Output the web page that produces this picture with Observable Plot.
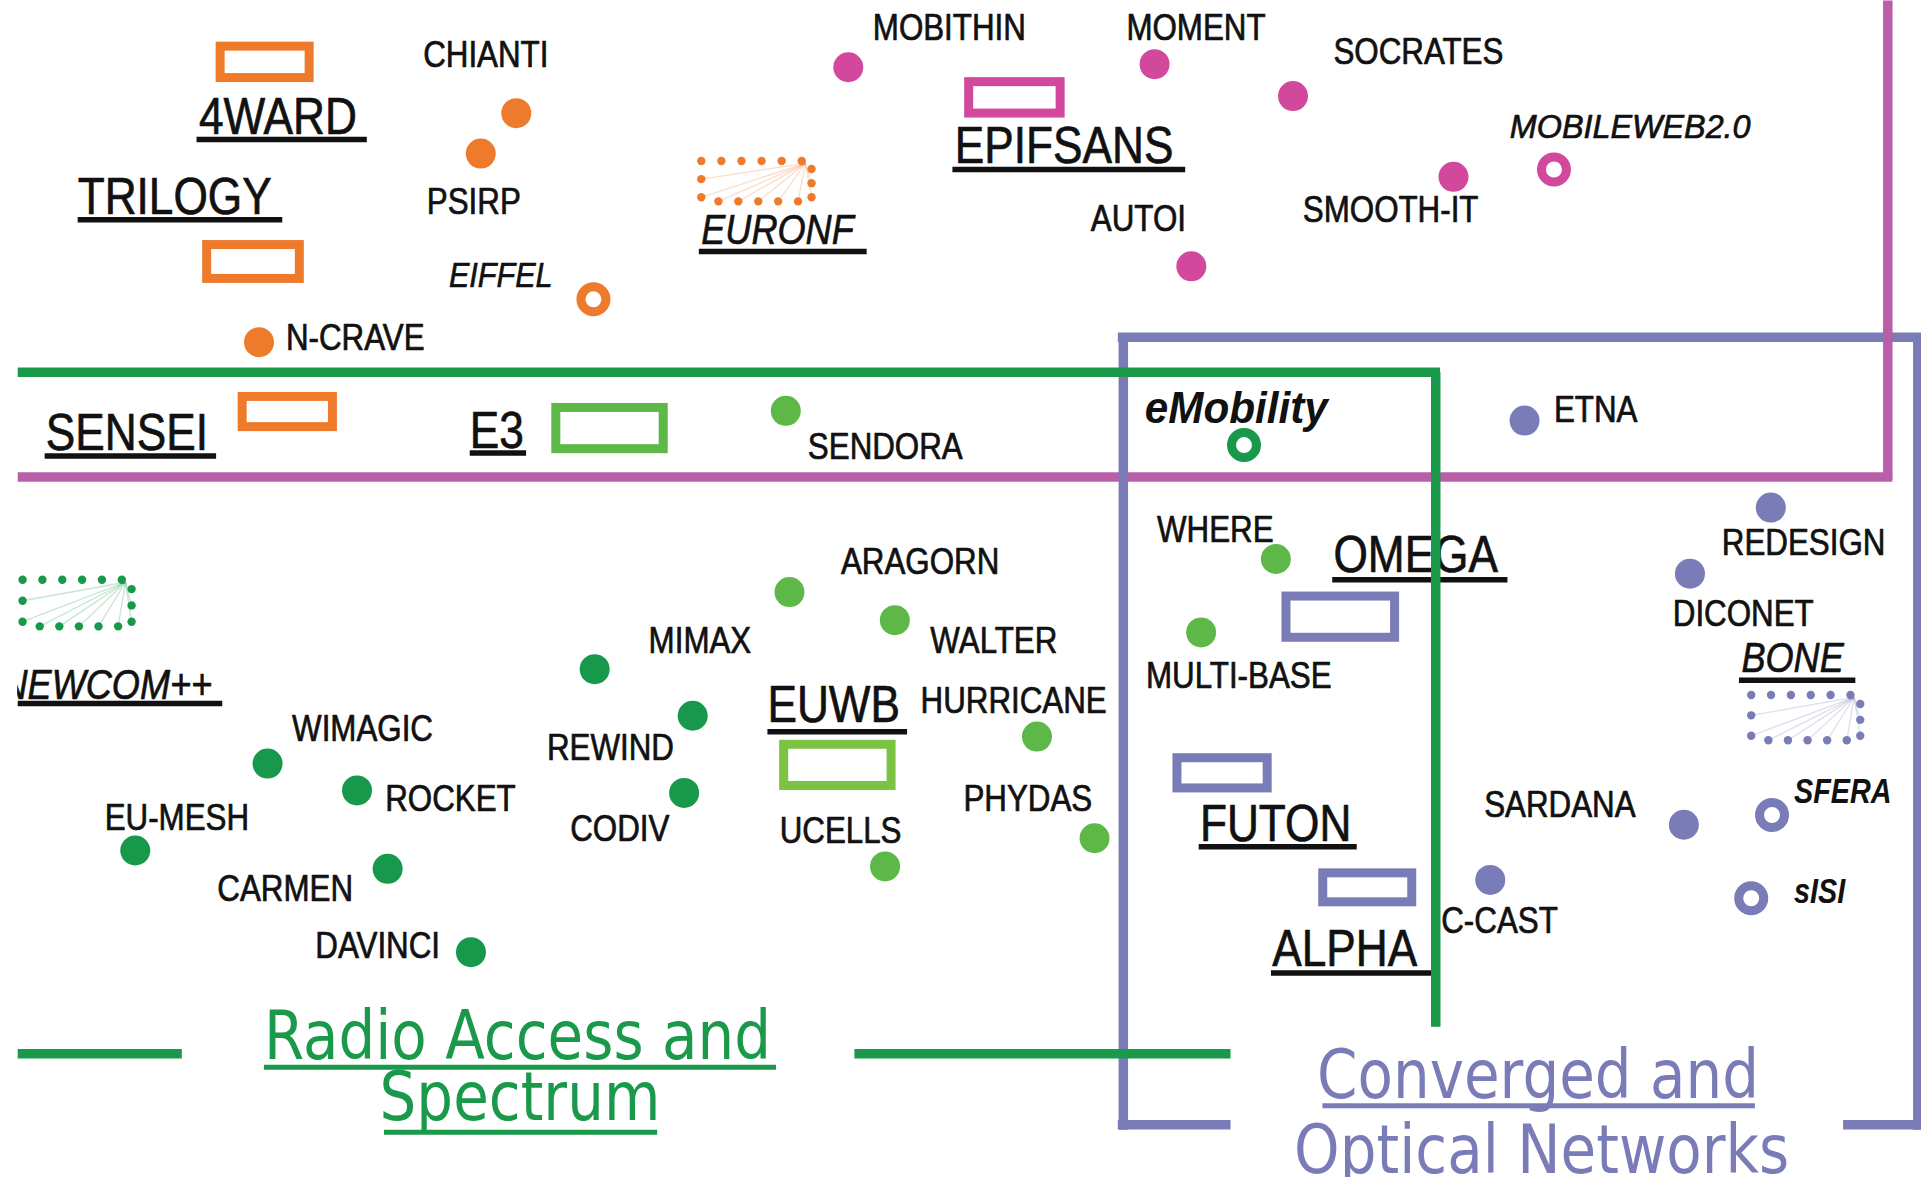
<!DOCTYPE html>
<html>
<head>
<meta charset="utf-8">
<script src="https://cdn.jsdelivr.net/npm/d3@7"></script>
<script src="https://cdn.jsdelivr.net/npm/@observablehq/plot@0.6"></script>
<style>
  html, body { margin: 0; padding: 0; background: #fff; overflow: hidden; }
  #chart svg { display: block; max-width: none; }
</style>
</head>
<body>
<div id="chart"></div>
<script>
// ---------- groups / colours ----------
const groupNames  = ["grpOrange", "grpPink", "grpPinkFrame", "grpLight", "grpLime", "grpDark", "grpGreen", "grpBlue"];
const groupColors = ["#EE7B2C", "#D1489D", "#BA5EA9", "#5DB847", "#7CC243", "#17984A", "#1A994B", "#7A7CB8"];

// ---------- projects shown as filled dots ----------
const dotNames = ["CHIANTI", "PSIRP", "N-CRAVE",
  "MOBITHIN", "MOMENT", "SOCRATES", "SMOOTH-IT", "AUTOI",
  "SENDORA", "ARAGORN", "WALTER", "HURRICANE", "PHYDAS", "UCELLS", "WHERE", "MULTI-BASE",
  "MIMAX", "REWIND", "CODIV", "WIMAGIC", "ROCKET", "EU-MESH", "CARMEN", "DAVINCI",
  "ETNA", "REDESIGN", "DICONET", "SARDANA", "C-CAST"];
const dotX = [421, 392, 211, 692, 942, 1055, 1186, 972,
  641, 644, 730, 846, 893, 722, 1041, 980,
  485, 565, 558, 218, 291, 110, 316, 384,
  1244, 1445, 1379, 1374, 1216];
const dotY = [92, 125, 279, 54.5, 52, 78, 144, 217,
  335, 483, 506, 601, 684, 707, 456, 516,
  546, 584, 647, 623, 645, 694, 709, 777,
  343, 414, 468, 673, 718];
const dotGroup = ["grpOrange", "grpOrange", "grpOrange", "grpPink", "grpPink", "grpPink", "grpPink", "grpPink",
  "grpLight", "grpLight", "grpLight", "grpLight", "grpLight", "grpLight", "grpLight", "grpLight",
  "grpDark", "grpDark", "grpDark", "grpDark", "grpDark", "grpDark", "grpDark", "grpDark",
  "grpBlue", "grpBlue", "grpBlue", "grpBlue", "grpBlue"];

// ---------- projects shown as rings ----------
const ringNames = ["EIFFEL", "MOBILEWEB2.0", "eMobility", "SFERA", "sISI"];
const ringX = [484, 1268, 1015, 1446, 1429];
const ringY = [244, 138, 363, 665, 733];
const ringGroup = ["grpOrange", "grpPink", "grpDark", "grpBlue", "grpBlue"];

// ---------- projects shown as open rectangles ----------
const rectNames = ["4WARD", "TRILOGY", "SENSEI", "EPIFSANS", "E3", "EUWB", "OMEGA", "FUTON", "ALPHA"];
const rectX1 = [176, 165, 194, 787, 450, 636, 1046, 957, 1076];
const rectX2 = [256, 248, 275, 869, 545, 731, 1142, 1038, 1156];
const rectY1 = [34, 196, 320, 63, 329, 604, 483, 615, 709];
const rectY2 = [67, 231, 352, 96, 370, 645, 524, 647, 740];
const rectGroup = ["grpOrange", "grpOrange", "grpOrange", "grpPink", "grpLight", "grpLime", "grpBlue", "grpBlue", "grpBlue"];

// ---------- network-of-excellence icons (dotted frames) ----------
const iconNames = ["EURONF", "NEWCOM++", "BONE"];
const iconX1 = [572, 18, 1429];
const iconX2 = [662, 107, 1518];
const iconY1 = [131, 473, 567];
const iconY2 = [164, 511, 604];
const iconGroup = ["grpOrange", "grpDark", "grpBlue"];

// ---------- labels ----------
const smallText = ["CHIANTI", "PSIRP", "N-CRAVE", "MOBITHIN", "MOMENT", "SOCRATES", "AUTOI", "SMOOTH-IT",
  "SENDORA", "ARAGORN", "MIMAX", "WALTER", "HURRICANE", "REWIND", "WIMAGIC", "ROCKET", "EU-MESH",
  "CODIV", "UCELLS", "PHYDAS", "CARMEN", "DAVINCI", "WHERE", "MULTI-BASE", "ETNA", "REDESIGN",
  "DICONET", "SARDANA", "C-CAST"];
const smallX = [345, 348, 233, 712, 919, 1088, 890, 1063,
  659, 686, 529, 759, 751, 446, 238, 314, 85,
  465, 636, 786, 177, 257, 944, 935, 1268, 1405,
  1365, 1211, 1176];
const smallY = [54, 174, 285, 32.6, 32.6, 52, 188, 181,
  374, 468, 533, 533, 582, 620, 605, 662, 677,
  686, 688, 662, 735, 782, 442, 561, 344, 453,
  511, 667, 761];

const italicText = ["EIFFEL"];
const italicX = [366];
const italicY = [234];

const boldItalicText = ["SFERA", "sISI"];
const boldItalicX = [1464, 1464];
const boldItalicY = [655, 737];

const webText = ["MOBILEWEB2.0"];
const webX = [1232];
const webY = [112];

const bigText = ["4WARD", "TRILOGY", "SENSEI", "E3", "EPIFSANS", "EUWB", "OMEGA", "FUTON", "ALPHA"];
const bigX = [162, 63, 37, 383, 779, 626, 1088, 979, 1038];
const bigY = [109, 174, 367, 365, 133, 589, 467, 686, 788];

const noeText = ["EURONF", "NEWCOM++", "BONE"];
const noeX = [572, 0.8, 1421];
const noeY = [199, 570, 548];

const emobText = ["eMobility"];
const emobX = [934];
const emobY = [345];

// underlines of the underlined labels
const ulX1 = [160, 63, 36, 383, 777, 570, 14, 626, 1087, 978, 1037, 1419];
const ulX2 = [299, 230, 176, 429, 967, 707, 181, 740, 1230, 1107, 1168, 1514];
const ulY  = [113.5, 179, 372, 369.5, 138, 205, 574, 597, 473, 691, 794, 555];

// ---------- area titles ----------
const titleText = ["Radio Access and", "Spectrum", "Converged and", "Optical Networks"];
const titleX = [422, 424, 1255, 1258];
const titleY = [864, 914, 896, 957];
const titleGroup = ["grpGreen", "grpGreen", "grpBlue", "grpBlue"];
const titleUlX1 = [215, 313, 1079];
const titleUlX2 = [633, 536, 1432];
const titleUlY  = [871, 924, 902.5];
const titleUlGroup = ["grpGreen", "grpGreen", "grpBlue"];

// ---------- area frames (segments, in drawing order) ----------
const segX1 = [14, 912, 916.5, 912, 1504, 1565, 1540.5, 14, 1171.5, 14, 697];
const segY1 = [389, 275, 272, 918, 918, 272, 0, 303.5, 303.5, 860, 860];
const segX2 = [1544, 1568, 916.5, 1004, 1568, 1565, 1540.5, 1175, 1171.5, 148, 1004];
const segY2 = [389, 275, 922, 918, 918, 922, 392, 303.5, 838, 860, 860];
const segGroup = ["grpPinkFrame", "grpBlue", "grpBlue", "grpBlue", "grpBlue", "grpBlue", "grpPinkFrame", "grpGreen", "grpGreen", "grpGreen", "grpGreen"];

// crop margin of the original figure (white strip on the left)
const cropX1 = [0], cropX2 = [14], cropY1 = [0], cropY2 = [961];

// ---------- derived structures ----------
const idx = n => d3.range(n);
const iconDots = [], iconLinks = [];
iconNames.forEach((name, k) => {
  const x1 = iconX1[k], x2 = iconX2[k], y1 = iconY1[k], y2 = iconY2[k], g = iconGroup[k];
  const w = x2 - x1, h = y2 - y1;
  const pts = [];
  for (let i = 0; i < 6; i++) pts.push([x1 + i * (w - 8) / 5, y1]);
  [0.2, 0.55, 0.9].forEach(f => pts.push([x2, y1 + f * h]));
  for (let i = 0; i < 5; i++) pts.push([x1 + 14 + i * (w - 25) / 4, y2]);
  pts.push([x1, y1 + 0.45 * h], [x1, y2 - 0.1 * h]);
  pts.forEach(p => iconDots.push({x: p[0], y: p[1], g}));
  const hub = [x2 - 5, y1 + 2];
  [[x1, y1 + 0.45 * h], [x1, y2 - 0.1 * h]].concat(pts.slice(9, 14)).concat([[x2, y1 + 0.55 * h], [x2, y1 + 0.9 * h]])
    .forEach(p => iconLinks.push({x1: hub[0], y1: hub[1], x2: p[0], y2: p[1], g}));
});

const labelFont = "'Liberation Sans', Arial, sans-serif";
const txt = (T, X, Y, opts) => Plot.text(idx(T.length), {
  x: i => X[i], y: i => Y[i], text: i => T[i],
  textAnchor: "start", lineAnchor: "bottom", fill: "#111", stroke: "#111", strokeWidth: 0.7,
  fontFamily: labelFont, ...opts
});

// horizontal condensation of each text mark, in the order the text marks are drawn
const textScales = [0.87, 0.85, 0.8, 0.98, 0.85, 0.86, 0.96, 0.865];

const plot = Plot.plot({
  width: 1921, height: 1177, margin: 0,
  x: {domain: [0, 1568], range: [0, 1921], axis: null},
  y: {domain: [0, 961], range: [0, 1177], axis: null},
  color: {type: "ordinal", domain: groupNames, range: groupColors},
  style: {background: "white", overflow: "hidden"},
  marks: [
    // icons
    Plot.link(iconLinks, {x1: "x1", y1: "y1", x2: "x2", y2: "y2", stroke: "g", strokeOpacity: 0.25, strokeWidth: 1.3}),
    Plot.dot(iconDots, {x: "x", y: "y", r: 4.2, fill: "g"}),
    // rectangles
    Plot.rect(idx(rectNames.length), {
      x1: i => rectX1[i], x2: i => rectX2[i], y1: i => rectY1[i], y2: i => rectY2[i],
      fill: "white", stroke: i => rectGroup[i], strokeWidth: 9, inset: 4.5
    }),
    // dots & rings
    Plot.dot(idx(dotNames.length), {x: i => dotX[i], y: i => dotY[i], r: 15, fill: i => dotGroup[i]}),
    Plot.dot(idx(ringNames.length), {x: i => ringX[i], y: i => ringY[i], r: 12.5, fill: "white", stroke: i => ringGroup[i], strokeWidth: 9}),
    // underlines
    Plot.link(idx(ulX1.length), {x1: i => ulX1[i], x2: i => ulX2[i], y1: i => ulY[i], y2: i => ulY[i], stroke: "#111", strokeWidth: 5.5}),
    // labels
    txt(smallText, smallX, smallY, {fontSize: 36}),
    txt(italicText, italicX, italicY, {fontSize: 36, fontStyle: "italic"}),
    txt(boldItalicText, boldItalicX, boldItalicY, {fontSize: 36, fontStyle: "italic", fontWeight: "bold", strokeWidth: 0}),
    txt(webText, webX, webY, {fontSize: 33, fontStyle: "italic"}),
    txt(bigText, bigX, bigY, {fontSize: 52}),
    txt(noeText, noeX, noeY, {fontSize: 42, fontStyle: "italic"}),
    txt(emobText, emobX, emobY, {fontSize: 44, fontStyle: "italic", fontWeight: "bold", strokeWidth: 0}),
    // titles
    Plot.text(idx(titleText.length), {
      x: i => titleX[i], y: i => titleY[i], text: i => titleText[i], fill: i => titleGroup[i],
      textAnchor: "middle", lineAnchor: "bottom", fontSize: 67, fontFamily: "'DejaVu Sans', Verdana, sans-serif"
    }),
    Plot.link(idx(titleUlX1.length), {x1: i => titleUlX1[i], x2: i => titleUlX2[i], y1: i => titleUlY[i], y2: i => titleUlY[i], stroke: i => titleUlGroup[i], strokeWidth: 5}),
    // area frames
    Plot.link(idx(segX1.length), {x1: i => segX1[i], y1: i => segY1[i], x2: i => segX2[i], y2: i => segY2[i], stroke: i => segGroup[i], strokeWidth: 9.5}),
    // crop margin
    Plot.rect(cropX1, {x1: (d, i) => cropX1[i], x2: (d, i) => cropX2[i], y1: (d, i) => cropY1[i], y2: (d, i) => cropY2[i], fill: "white"})
  ]
});

// condense the label fonts horizontally (the original uses condensed faces)
function condenseText(t, sx) {
  const tr = t.getAttribute("transform");
  if (tr && /translate/.test(tr)) t.setAttribute("transform", tr + ` scale(${sx},1)`);
  else {
    const x = +t.getAttribute("x") || 0, y = +t.getAttribute("y") || 0;
    t.setAttribute("transform", `translate(${x},${y}) scale(${sx},1) translate(${-x},${-y})`);
  }
}
const textGroups = Array.from(plot.querySelectorAll("g[aria-label='text']"));
textGroups.forEach((g, k) => {
  const sx = textScales[k] ?? 1;
  g.querySelectorAll("text").forEach(t => condenseText(t, sx));
});

document.getElementById("chart").appendChild(plot);
</script>
</body>
</html>
